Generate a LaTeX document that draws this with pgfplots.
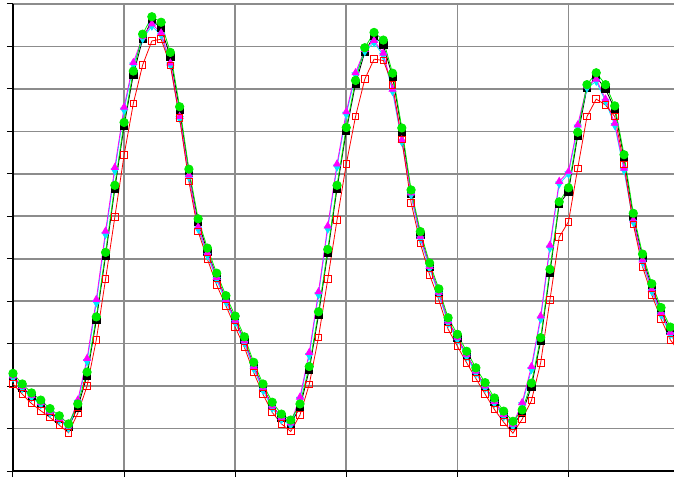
\documentclass[border=0pt]{standalone}
\usepackage{pgfplots}
\pgfplotsset{compat=1.18}
\definecolor{gr}{RGB}{0,235,0}
\definecolor{cy}{RGB}{0,230,255}
\definecolor{mg}{RGB}{255,0,255}
\definecolor{rd}{RGB}{255,0,0}
\definecolor{gridgray}{RGB}{140,140,140}
\begin{document}
\begin{tikzpicture}
\begin{axis}[at={(13pt,6pt)}, anchor=south west, scale only axis, width=661pt, height=467pt,
  xmin=0, xmax=71.4, ymin=0, ymax=11,
  xtick={0,12,...,60}, ytick={0,...,11}, xticklabels={}, yticklabels={},
  axis x line*=bottom, axis y line*=left,
  axis line style={black, line width=1.4pt, -},
  tick align=outside, major tick length=6pt, tick style={black, line width=1pt},
  grid=major, grid style={color=gridgray, line width=1.6pt},
  clip=false]
\addplot[black, line width=0.8pt, mark=square*, mark size=3.6pt, mark options={solid,fill=black}] coordinates {
(0,2.22)(1,1.97)(2,1.76)(3,1.59)(4,1.39)(5,1.22)(6,1.03)(7,1.50)(8,2.25)(9,3.55)(10,5.07)(11,6.65)(12,8.13)(13,9.34)(14,10.17)(15,10.62)(16,10.43)(17,9.76)(18,8.50)(19,7.03)(20,5.86)(21,5.17)(22,4.58)(23,4.05)(24,3.57)(25,3.08)(26,2.48)(27,1.97)(28,1.54)(29,1.26)(30,1.12)(31,1.50)(32,2.38)(33,3.67)(34,5.14)(35,6.65)(36,8.01)(37,9.12)(38,9.87)(39,10.25)(40,10.03)(41,9.29)(42,8.00)(43,6.54)(44,5.56)(45,4.82)(46,4.21)(47,3.53)(48,3.14)(49,2.74)(50,2.35)(51,2.00)(52,1.64)(53,1.33)(54,1.09)(55,1.36)(56,1.99)(57,3.06)(58,4.67)(59,6.29)(60,6.58)(61,7.90)(62,9.02)(63,9.28)(64,9.00)(65,8.52)(66,7.37)(67,5.99)(68,5.03)(69,4.33)(70,3.77)(71,3.31)(72,2.97)};
\addplot[cy, line width=0.8pt, mark=triangle*, mark size=4pt, mark options={solid,fill=cy,rotate=180}] coordinates {
(0,2.19)(1,1.94)(2,1.73)(3,1.56)(4,1.36)(5,1.19)(6,1.01)(7,1.62)(8,2.58)(9,3.96)(10,5.57)(11,7.07)(12,8.50)(13,9.56)(14,10.18)(15,10.48)(16,10.27)(17,9.56)(18,8.30)(19,6.92)(20,5.70)(21,5.08)(22,4.51)(23,3.98)(24,3.50)(25,3.01)(26,2.41)(27,1.90)(28,1.48)(29,1.21)(30,1.08)(31,1.69)(32,2.72)(33,4.15)(34,5.70)(35,7.16)(36,8.40)(37,9.33)(38,9.88)(39,10.09)(40,9.79)(41,8.94)(42,7.75)(43,6.50)(44,5.47)(45,4.77)(46,4.16)(47,3.48)(48,3.09)(49,2.69)(50,2.30)(51,1.95)(52,1.59)(53,1.28)(54,1.05)(55,1.56)(56,2.39)(57,3.58)(58,5.25)(59,6.76)(60,7.00)(61,8.10)(62,9.02)(63,9.18)(64,8.71)(65,8.14)(66,7.08)(67,5.86)(68,4.92)(69,4.23)(70,3.68)(71,3.21)(72,2.90)};
\addplot[mg, line width=0.8pt, mark=triangle*, mark size=4pt, mark options={solid,fill=mg}] coordinates {
(0,2.24)(1,1.99)(2,1.78)(3,1.61)(4,1.41)(5,1.24)(6,1.06)(7,1.67)(8,2.65)(9,4.04)(10,5.65)(11,7.15)(12,8.57)(13,9.62)(14,10.23)(15,10.53)(16,10.32)(17,9.61)(18,8.35)(19,6.97)(20,5.75)(21,5.13)(22,4.56)(23,4.03)(24,3.55)(25,3.06)(26,2.46)(27,1.95)(28,1.53)(29,1.26)(30,1.13)(31,1.74)(32,2.79)(33,4.22)(34,5.77)(35,7.23)(36,8.46)(37,9.38)(38,9.93)(39,10.14)(40,9.84)(41,8.99)(42,7.80)(43,6.55)(44,5.52)(45,4.82)(46,4.21)(47,3.53)(48,3.14)(49,2.74)(50,2.35)(51,2.00)(52,1.64)(53,1.33)(54,1.10)(55,1.61)(56,2.46)(57,3.65)(58,5.32)(59,6.82)(60,7.05)(61,8.15)(62,9.07)(63,9.23)(64,8.76)(65,8.19)(66,7.13)(67,5.91)(68,4.97)(69,4.28)(70,3.73)(71,3.26)(72,2.95)};
\addplot[rd, line width=0.8pt, mark=square, mark size=3.3pt, mark options={solid,line width=0.9pt}] coordinates {
(0,2.05)(1,1.81)(2,1.59)(3,1.42)(4,1.26)(5,1.08)(6,0.90)(7,1.36)(8,2.00)(9,3.09)(10,4.52)(11,5.98)(12,7.44)(13,8.66)(14,9.56)(15,10.13)(16,10.17)(17,9.55)(18,8.31)(19,6.82)(20,5.64)(21,4.99)(22,4.38)(23,3.89)(24,3.39)(25,2.91)(26,2.32)(27,1.81)(28,1.38)(29,1.11)(30,0.93)(31,1.32)(32,2.04)(33,3.15)(34,4.52)(35,5.91)(36,7.23)(37,8.35)(38,9.23)(39,9.70)(40,9.67)(41,9.09)(42,7.81)(43,6.32)(44,5.36)(45,4.62)(46,4.03)(47,3.34)(48,2.94)(49,2.55)(50,2.18)(51,1.81)(52,1.45)(53,1.15)(54,0.89)(55,1.22)(56,1.66)(57,2.55)(58,4.03)(59,5.51)(60,5.87)(61,7.13)(62,8.35)(63,8.76)(64,8.62)(65,8.35)(66,7.22)(67,5.81)(68,4.81)(69,4.15)(70,3.58)(71,3.09)(72,2.80)};
\addplot[gr, line width=0.8pt, mark=*, mark size=4.2pt, mark options={solid,fill=gr}] coordinates {
(0,2.30)(1,2.05)(2,1.84)(3,1.67)(4,1.47)(5,1.30)(6,1.11)(7,1.58)(8,2.33)(9,3.63)(10,5.15)(11,6.73)(12,8.21)(13,9.42)(14,10.29)(15,10.70)(16,10.57)(17,9.86)(18,8.58)(19,7.11)(20,5.94)(21,5.25)(22,4.66)(23,4.13)(24,3.65)(25,3.16)(26,2.56)(27,2.05)(28,1.62)(29,1.34)(30,1.20)(31,1.58)(32,2.46)(33,3.75)(34,5.22)(35,6.73)(36,8.09)(37,9.20)(38,9.97)(39,10.33)(40,10.15)(41,9.37)(42,8.08)(43,6.62)(44,5.64)(45,4.90)(46,4.29)(47,3.61)(48,3.22)(49,2.82)(50,2.43)(51,2.08)(52,1.72)(53,1.41)(54,1.17)(55,1.44)(56,2.07)(57,3.14)(58,4.75)(59,6.34)(60,6.67)(61,7.98)(62,9.10)(63,9.38)(64,9.10)(65,8.60)(66,7.45)(67,6.07)(68,5.11)(69,4.41)(70,3.85)(71,3.39)(72,3.05)};
\end{axis}
\pgfresetboundingbox
\path (0,0) rectangle (674pt,477pt);
\end{tikzpicture}
\end{document}
